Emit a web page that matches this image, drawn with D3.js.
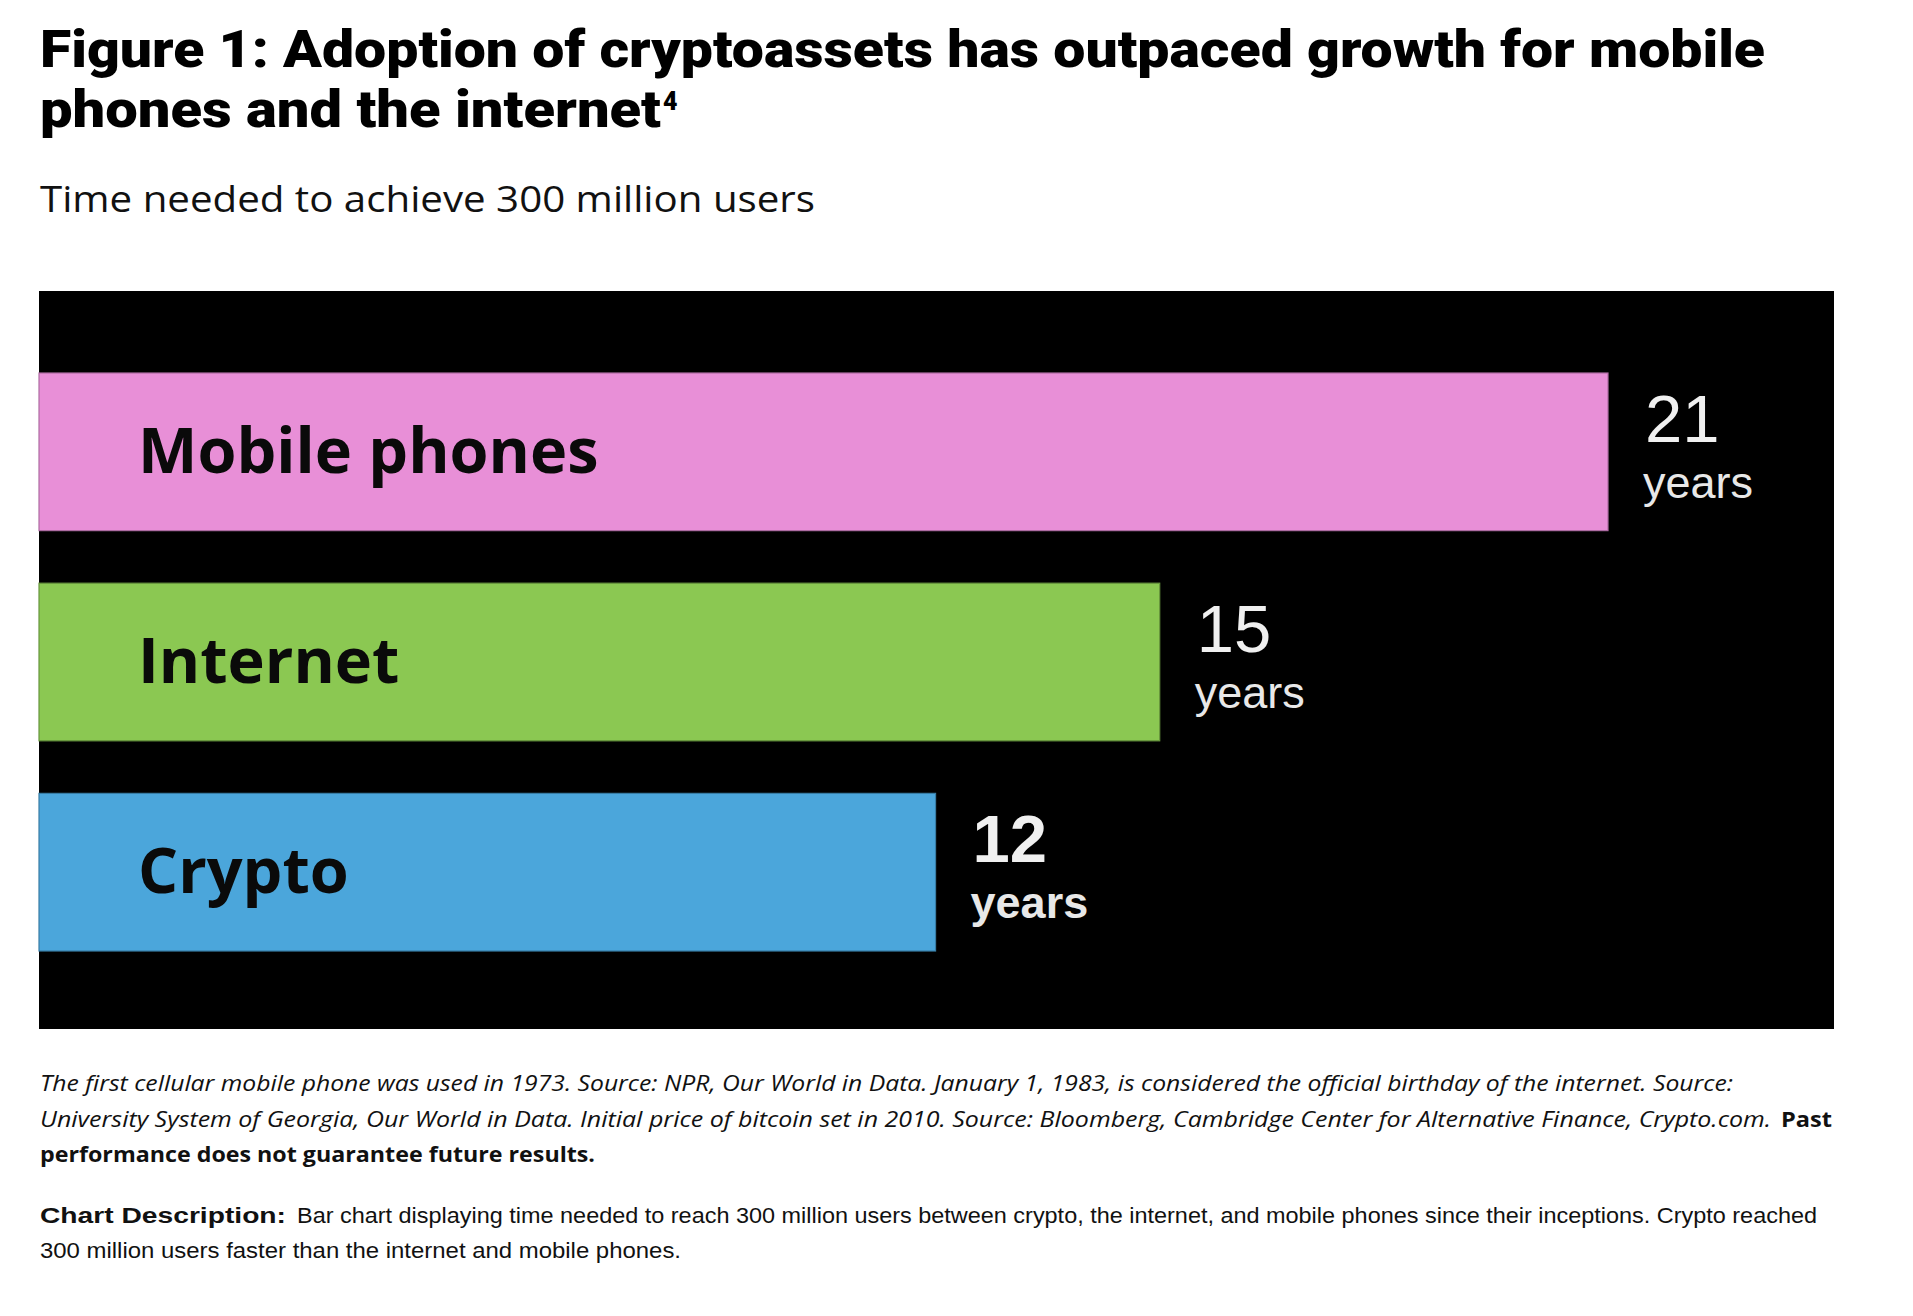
<!DOCTYPE html>
<html>
<head>
<meta charset="utf-8">
<script src="https://cdn.jsdelivr.net/npm/d3@7"></script>
<style>
  html, body { margin: 0; padding: 0; background: #ffffff; }
  svg { display: block; }
</style>
</head>
<body>
<svg id="chart" width="1913" height="1316"></svg>
<script>
// ---- data ----
const categories = ["Mobile phones", "Internet", "Crypto"];
const years = [21, 15, 12];
const valueUnits = ["years", "years", "years"];
const barColors = ["#E88FD7", "#8BC852", "#4BA6DB"];
const emphasized = [false, false, true];

const titleLines = ["Figure 1: Adoption of cryptoassets has outpaced growth for mobile", "phones and the internet"];
const titleSup = "4";
const subtitle = "Time needed to achieve 300 million users";

const noteLine1 = "The first cellular mobile phone was used in 1973. Source: NPR, Our World in Data. January 1, 1983, is considered the official birthday of the internet. Source:";
const noteLine2 = "University System of Georgia, Our World in Data. Initial price of bitcoin set in 2010. Source: Bloomberg, Cambridge Center for Alternative Finance, Crypto.com.";
const noteLine2Bold = "Past";
const noteLine3Bold = "performance does not guarantee future results.";
const descLabel = "Chart Description:";
const descLine1 = "Bar chart displaying time needed to reach 300 million users between crypto, the internet, and mobile phones since their inceptions. Crypto reached";
const descLine2 = "300 million users faster than the internet and mobile phones.";

// ---- layout ----
const svg = d3.select("#chart");
const box = { x0: 39, x1: 1834, y0: 291, y1: 1029 };

function fitText(sel, w, adjust) {
  sel.attr("textLength", w).attr("lengthAdjust", adjust || "spacing");
  return sel;
}

// title
const titleFont = "Roboto, 'Liberation Sans', sans-serif";
fitText(svg.append("text").attr("x", 40).attr("y", 67)
  .style("font-family", titleFont).style("font-weight", 900).style("font-size", "52px")
  .attr("fill", "#000").text(titleLines[0]), 1725, "spacingAndGlyphs");
fitText(svg.append("text").attr("x", 40).attr("y", 127)
  .style("font-family", titleFont).style("font-weight", 900).style("font-size", "52px")
  .attr("fill", "#000").text(titleLines[1]), 621, "spacingAndGlyphs");
svg.append("text").attr("x", 663).attr("y", 110)
  .style("font-family", titleFont).style("font-weight", 900).style("font-size", "25px")
  .attr("fill", "#000").text(titleSup);

// subtitle
fitText(svg.append("text").attr("x", 40).attr("y", 212)
  .style("font-family", "'Open Sans', sans-serif").style("font-size", "37px")
  .attr("fill", "#111").text(subtitle), 775, "spacingAndGlyphs");

// black panel
svg.append("rect").attr("x", box.x0).attr("y", box.y0)
  .attr("width", box.x1 - box.x0).attr("height", box.y1 - box.y0).attr("fill", "#000");

const x = d3.scaleLinear().domain([0, d3.max(years)]).range([box.x0, 1608]);
const y = d3.scaleBand().domain(categories).range([373, 951]).paddingInner(0.25).paddingOuter(0);

const g = svg.append("g");
const rows = g.selectAll("g.row").data(categories).join("g").attr("class", "row");

rows.append("rect")
  .attr("x", x(0))
  .attr("y", d => y(d))
  .attr("width", (d, i) => x(years[i]) - x(0))
  .attr("height", y.bandwidth())
  .attr("fill", (d, i) => barColors[i])
  .attr("stroke", (d, i) => d3.color(barColors[i]).darker(0.8))
  .attr("stroke-width", 1.2);

rows.append("text")
  .attr("x", 138)
  .attr("y", d => y(d) + y.bandwidth() / 2 + 21)
  .style("font-family", "'Open Sans', sans-serif")
  .style("font-weight", 700)
  .style("font-size", "63px")
  .attr("fill", "#0a0a0a")
  .text(d => d);

const valueFont = "'Liberation Sans', Arial, sans-serif";
rows.append("text")
  .attr("x", (d, i) => x(years[i]) + 37)
  .attr("y", d => y(d) + 69)
  .style("font-family", valueFont)
  .style("font-weight", (d, i) => emphasized[i] ? 700 : 400)
  .style("font-size", "67px")
  .attr("fill", "#f0f0f0")
  .text((d, i) => years[i]);
rows.append("text")
  .attr("x", (d, i) => x(years[i]) + 35)
  .attr("y", d => y(d) + 125)
  .style("font-family", valueFont)
  .style("font-weight", (d, i) => emphasized[i] ? 700 : 400)
  .style("font-size", "45px")
  .attr("fill", "#e8e8e8")
  .text((d, i) => valueUnits[i]);

// notes
const noteFont = "'Open Sans', sans-serif";
function note(txt, xx, yy, w, opts) {
  const t = svg.append("text").attr("x", xx).attr("y", yy)
    .style("font-family", opts.family || noteFont)
    .style("font-size", (opts.size || 21) + "px")
    .style("font-style", opts.italic ? "italic" : "normal")
    .style("font-weight", opts.bold ? 700 : 400)
    .attr("fill", "#111").text(txt);
  fitText(t, w, "spacingAndGlyphs");
}
note(noteLine1, 40, 1091, 1693, { italic: true });
note(noteLine2, 40, 1127, 1731, { italic: true });
note(noteLine2Bold, 1781, 1127, 51, { bold: true });
note(noteLine3Bold, 40, 1162, 555, { bold: true });

const descFont = "'Liberation Sans', Arial, sans-serif";
note(descLabel, 40, 1223, 246, { bold: true, family: descFont, size: 22 });
note(descLine1, 297, 1223, 1520, { family: descFont, size: 22 });
note(descLine2, 40, 1258, 641, { family: descFont, size: 22 });
</script>
</body>
</html>
